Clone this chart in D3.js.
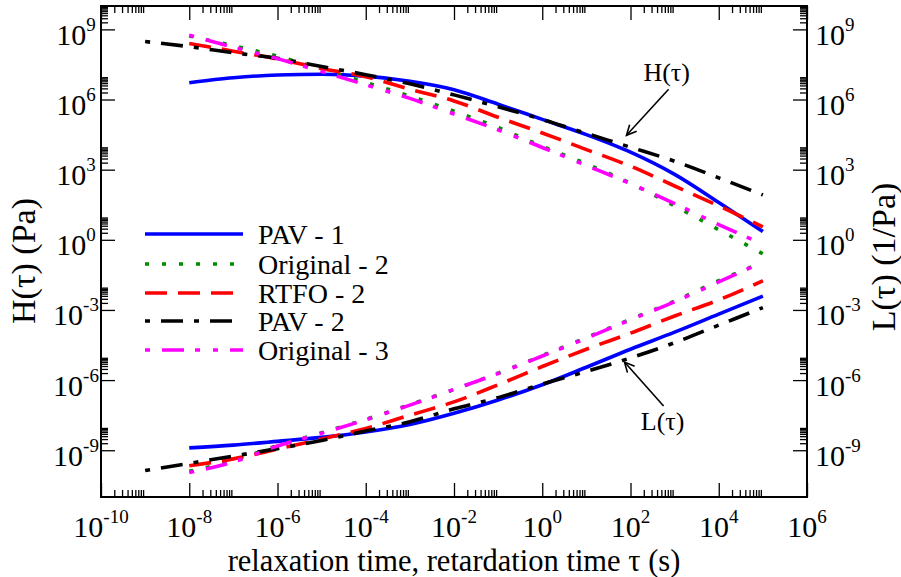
<!DOCTYPE html>
<html>
<head>
<meta charset="utf-8">
<script src="https://cdn.jsdelivr.net/npm/d3@7"></script>
<style>
  body { margin: 0; background: #fff; }
  svg { display: block; }
  text { font-family: "Liberation Serif", "Times New Roman", Times, serif; fill: #000; }
</style>
</head>
<body>
<svg id="chart" width="901" height="577"></svg>
<script>
// Relaxation / retardation time grids (s)
const tau = [1e-8, 1e-7, 1e-6, 1e-5, 1e-4, 1e-3, 1e-2, 1e-1, 1e0, 1e1, 1e2, 1e3, 1e4, 1e5];
const tauPAV2 = [1e-9, 1e-8, 1e-7, 1e-6, 1e-5, 1e-4, 1e-3, 1e-2, 1e-1, 1e0, 1e1, 1e2, 1e3, 1e4, 1e5];

// Relaxation spectra H(tau) in Pa
const hPAV1 = [5.25e6, 8.51e6, 1.12e7, 1.2e7, 1.0e7, 6.03e6, 2.63e6, 6.31e5, 1.41e5, 3.16e4, 5.62e3, 631, 39.8, 2.24];
const hOrig2 = [5.25e8, 2.0e8, 7.08e7, 2.0e7, 5.37e6, 1.41e6, 3.16e5, 6.31e4, 1.0e4, 1.78e3, 263, 28.2, 2.69, 0.251];
const hRTFO2 = [2.51e8, 1.17e8, 5.37e7, 2.14e7, 9.33e6, 2.75e6, 8.71e5, 1.74e5, 3.72e4, 7.24e3, 1.41e3, 200, 28.2, 3.55];
const hPAV2 = [3.02e8, 1.82e8, 1.0e8, 5.75e7, 2.57e7, 1.15e7, 4.68e6, 1.58e6, 4.9e5, 1.41e5, 3.55e4, 9.12e3, 2.29e3, 447, 83.2];
const hOrig3 = [5.62e8, 1.74e8, 5.62e7, 1.58e7, 4.27e6, 1.12e6, 2.4e5, 5.01e4, 8.91e3, 1.51e3, 251, 35.5, 4.47, 0.661];

// Retardation spectra L(tau) in 1/Pa
const lPAV1 = [1.26e-9, 1.66e-9, 2.4e-9, 3.55e-9, 6.03e-9, 1.26e-8, 3.8e-8, 1.41e-7, 6.31e-7, 3.55e-6, 2.09e-5, 1.12e-4, 6.61e-4, 3.89e-3];
const lOrig2 = [1.26e-10, 3.55e-10, 1.58e-9, 5.62e-9, 2.09e-8, 8.91e-8, 3.98e-7, 2.0e-6, 1.12e-5, 6.61e-5, 3.98e-4, 2.4e-3, 1.78e-2, 0.11];
const lRTFO2 = [2.19e-10, 4.27e-10, 1.12e-9, 3.02e-9, 8.51e-9, 3.16e-8, 1.17e-7, 6.31e-7, 3.8e-6, 2.09e-5, 1.02e-4, 5.5e-4, 2.69e-3, 1.78e-2];
const lPAV2 = [1.35e-10, 2.75e-10, 5.62e-10, 1.17e-9, 2.63e-9, 6.61e-9, 1.66e-8, 5.89e-8, 1.78e-7, 6.76e-7, 2.34e-6, 8.91e-6, 3.98e-5, 2.24e-4, 1.26e-3];
const lOrig3 = [1.12e-10, 3.16e-10, 1.51e-9, 5.37e-9, 2.0e-8, 8.51e-8, 3.98e-7, 1.91e-6, 1.07e-5, 6.17e-5, 3.8e-4, 2.24e-3, 1.58e-2, 0.11];

const seriesNames = ["PAV - 1", "Original - 2", "RTFO - 2", "PAV - 2", "Original - 3"];
const xTickExps = [-10, -8, -6, -4, -2, 0, 2, 4, 6];
const yTickExps = [-9, -6, -3, 0, 3, 6, 9];

// Series table built from the arrays above
const series = [
  { name: seriesNames[0], tau: tau,     H: hPAV1,  L: lPAV1,  color: "#0000ff", dash: null },
  { name: seriesNames[1], tau: tau,     H: hOrig2, L: lOrig2, color: "#008b00", dash: "4,13" },
  { name: seriesNames[2], tau: tau,     H: hRTFO2, L: lRTFO2, color: "#ff0000", dash: "22,11" },
  { name: seriesNames[3], tau: tauPAV2, H: hPAV2,  L: lPAV2,  color: "#000000", dash: "5,11,22,11" },
  { name: seriesNames[4], tau: tau,     H: hOrig3, L: lOrig3, color: "#ff00ff", dash: "5,12,22,11,5,13" }
];

const svg = d3.select("#chart");
const W = 901, H = 577;
const plot = { left: 101, right: 807, top: 6, bottom: 497 };

const x = d3.scaleLog().domain([1e-10, 1e6]).range([plot.left, plot.right]);
const y = d3.scaleLog().domain([1e-11, 1e10]).range([plot.bottom, plot.top]);

svg.append("rect").attr("width", W).attr("height", H).attr("fill", "#fff");

svg.append("defs").append("clipPath").attr("id", "plotClip")
  .append("rect")
  .attr("x", plot.left).attr("y", plot.top)
  .attr("width", plot.right - plot.left).attr("height", plot.bottom - plot.top);

// Curves
const lineGen = d3.line()
  .x(d => x(d[0]))
  .y(d => y(d[1]))
  .curve(d3.curveMonotoneX);

const curves = svg.append("g").attr("clip-path", "url(#plotClip)");
series.forEach(s => {
  ["H", "L"].forEach(k => {
    const pts = s.tau.map((t, i) => [t, s[k][i]]);
    curves.append("path")
      .datum(pts)
      .attr("d", lineGen)
      .attr("fill", "none")
      .attr("stroke", s.color)
      .attr("stroke-width", 3.6)
      .attr("stroke-linecap", "butt")
      .attr("stroke-linejoin", "round")
      .attr("stroke-dasharray", s.dash);
  });
});

// Ticks: majors labelled, minors at 2..9 times each labelled major
const xMajor = xTickExps.map(e => Math.pow(10, e));
const yMajor = yTickExps.map(e => Math.pow(10, e));
const minorsOf = (majors, dom) => {
  const out = [];
  majors.forEach(m => { for (let k = 2; k <= 9; k++) { const v = k * m; if (v > dom[0] && v < dom[1]) out.push(v); } });
  return out;
};
const xMinor = minorsOf(xMajor, x.domain());
const yMinor = minorsOf(yMajor, y.domain());

function drawAxis(axisFn, scale, pos, majors, minors) {
  const g = svg.append("g").attr("transform", pos);
  g.call(axisFn(scale).tickValues(majors).tickSize(-14).tickSizeOuter(0).tickFormat(""));
  g.select(".domain").remove();
  const g2 = svg.append("g").attr("transform", pos);
  g2.call(axisFn(scale).tickValues(minors).tickSize(-7).tickSizeOuter(0).tickFormat(""));
  g2.select(".domain").remove();
  svg.selectAll(".tick line").attr("stroke", "#000").attr("stroke-width", 1.3);
}
drawAxis(d3.axisBottom, x, `translate(0,${plot.bottom})`, xMajor, xMinor);
drawAxis(d3.axisTop, x, `translate(0,${plot.top})`, xMajor, xMinor);
drawAxis(d3.axisLeft, y, `translate(${plot.left},0)`, yMajor, yMinor);
drawAxis(d3.axisRight, y, `translate(${plot.right},0)`, yMajor, yMinor);

// Frame
svg.append("rect")
  .attr("x", plot.left).attr("y", plot.top)
  .attr("width", plot.right - plot.left).attr("height", plot.bottom - plot.top)
  .attr("fill", "none").attr("stroke", "#000").attr("stroke-width", 2);

// Power-of-ten labels
function powLabel(sel, exp) {
  sel.append("tspan").text("10");
  sel.append("tspan").attr("font-size", 19).attr("dy", -14).text(String(exp));
}
const labelSize = 30;
xTickExps.forEach(e => {
  svg.append("text")
    .attr("x", x(Math.pow(10, e))).attr("y", 537)
    .attr("text-anchor", "middle").attr("font-size", labelSize)
    .call(powLabel, e);
});
yTickExps.forEach(e => {
  const yy = y(Math.pow(10, e)) + 15.5;
  svg.append("text")
    .attr("x", 76).attr("y", yy)
    .attr("text-anchor", "middle").attr("font-size", labelSize)
    .call(powLabel, e);
  svg.append("text")
    .attr("x", 815).attr("y", yy)
    .attr("text-anchor", "start").attr("font-size", labelSize)
    .call(powLabel, e);
});

// Axis titles
svg.append("text")
  .attr("x", (plot.left + plot.right) / 2).attr("y", 570.5)
  .attr("text-anchor", "middle").attr("font-size", 30.5)
  .text("relaxation time, retardation time \u03c4 (s)");
svg.append("text")
  .attr("transform", "translate(35,261) rotate(-90)")
  .attr("text-anchor", "middle").attr("font-size", 34)
  .text("H(\u03c4) (Pa)");
svg.append("text")
  .attr("transform", "translate(895,257) rotate(-90)")
  .attr("text-anchor", "middle").attr("font-size", 34)
  .text("L(\u03c4) (1/Pa)");

// Legend
const legend = svg.append("g");
const legendY = [234, 264, 293, 321, 350];
series.forEach((s, i) => {
  legend.append("line")
    .attr("x1", 145).attr("x2", 243)
    .attr("y1", legendY[i]).attr("y2", legendY[i])
    .attr("stroke", s.color).attr("stroke-width", 3.6)
    .attr("stroke-dasharray", s.dash);
  legend.append("text")
    .attr("x", 258).attr("y", legendY[i] + 9.5)
    .attr("font-size", 28)
    .text(s.name);
});

// Annotations with open arrowheads
function arrow(from, to) {
  const x1 = x(from[0]), y1 = y(from[1]), x2 = x(to[0]), y2 = y(to[1]);
  const a = Math.atan2(y2 - y1, x2 - x1), len = 11, spread = 0.45;
  const g = svg.append("g").attr("stroke", "#000").attr("stroke-width", 1.6).attr("fill", "none");
  g.append("line").attr("x1", x1).attr("y1", y1).attr("x2", x2).attr("y2", y2);
  g.append("path").attr("d",
    `M${x2 - len * Math.cos(a - spread)},${y2 - len * Math.sin(a - spread)}L${x2},${y2}L${x2 - len * Math.cos(a + spread)},${y2 - len * Math.sin(a + spread)}`);
}
arrow([731, 2.73e6], [81, 2.95e4]);
arrow([562, 7.8e-8], [73, 5.9e-6]);
svg.append("text").attr("x", x(660)).attr("y", y(6.0e6))
  .attr("text-anchor", "middle").attr("font-size", 26).text("H(\u03c4)");
svg.append("text").attr("x", x(534)).attr("y", y(7.2e-9))
  .attr("text-anchor", "middle").attr("font-size", 26).text("L(\u03c4)");
</script>
</body>
</html>
